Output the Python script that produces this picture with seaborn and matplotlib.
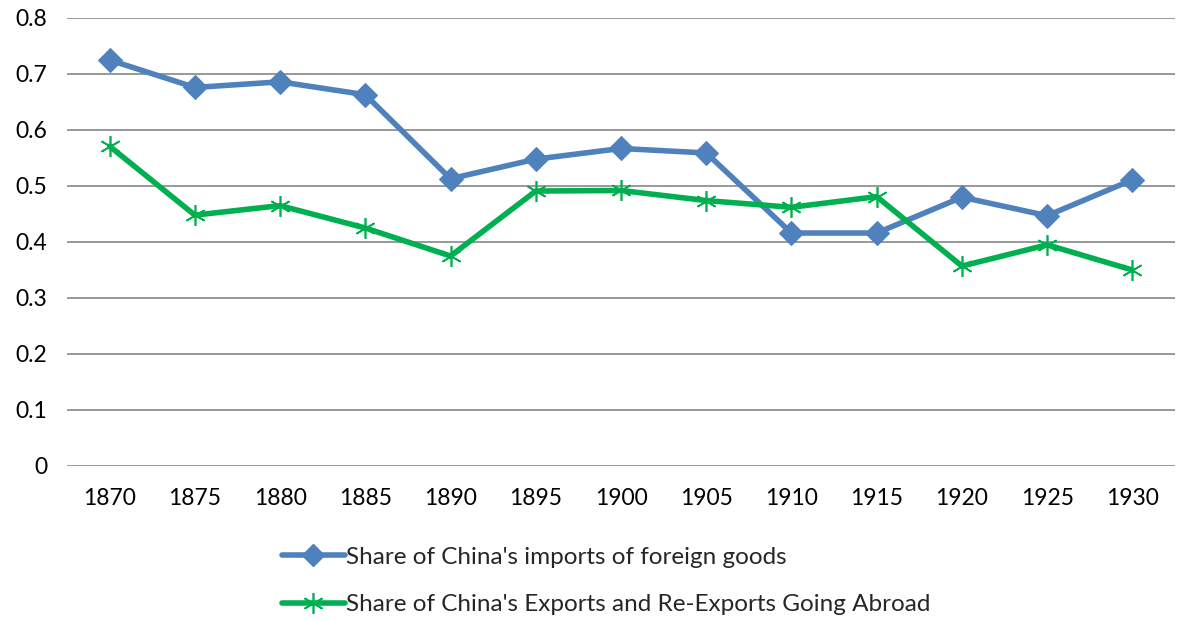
import matplotlib
matplotlib.use("Agg")
import matplotlib.pyplot as plt
import seaborn as sns
import pandas as pd
from matplotlib.lines import Line2D

years = [1870, 1875, 1880, 1885, 1890, 1895, 1900, 1905, 1910, 1915, 1920, 1925, 1930]
imports_share = [0.725, 0.676, 0.686, 0.663, 0.513, 0.548, 0.567, 0.559, 0.416, 0.416, 0.480, 0.447, 0.511]
exports_share = [0.571, 0.448, 0.465, 0.425, 0.375, 0.491, 0.492, 0.474, 0.462, 0.481, 0.357, 0.395, 0.350]
series_names = ["Share of China's imports of foreign goods",
                "Share of China's Exports and Re-Exports Going Abroad"]
colors = ["#4F81BD", "#00B050"]

sns.set_theme(style="white")
plt.rcParams['font.family'] = ['Lato', 'DejaVu Sans']

pos = list(range(len(years)))
df_imp = pd.DataFrame({"pos": pos, "value": imports_share})
df_exp = pd.DataFrame({"pos": pos, "value": exports_share})

fig = plt.figure(figsize=(11.88, 6.22), dpi=100)
ax = fig.add_axes([67/1188, 1 - 466/622, (1175-67)/1188, (466-18)/622])

sns.lineplot(data=df_imp, x="pos", y="value", color=colors[0], marker="D",
             linewidth=4, markersize=12, markeredgecolor=colors[0], ax=ax)
sns.lineplot(data=df_exp, x="pos", y="value", color=colors[1], marker=(6, 2, 0),
             linewidth=4, markersize=15, markeredgewidth=1.2, markeredgecolor=colors[1], ax=ax)

ax.set_xlim(-0.5, len(years) - 0.5)
ax.set_ylim(0, 0.8)
ax.set_yticks([i / 10 for i in range(9)])
ax.set_yticklabels(["0"] + [f"{i/10:.1f}" for i in range(1, 9)])
ax.set_xticks(pos)
ax.set_xticklabels([str(y) for y in years])
ax.yaxis.grid(True, color="#888888", linewidth=1.2)
ax.set_axisbelow(True)
for s in ax.spines.values():
    s.set_visible(False)
ax.tick_params(axis="both", length=0, labelsize=16.5, colors="black")
ax.tick_params(axis="x", pad=16)
ax.tick_params(axis="y", pad=14)
ax.set_xlabel("")
ax.set_ylabel("")

handles = [
    Line2D([], [], color=colors[0], lw=4, marker="D", markersize=11, markeredgecolor=colors[0]),
    Line2D([], [], color=colors[1], lw=4, marker=(6, 2, 0), markersize=15, markeredgewidth=1.2, markeredgecolor=colors[1]),
]
fig.legend(handles, series_names, loc="center", bbox_to_anchor=(606/1188, 1 - 581/622),
           frameon=False, fontsize=17.5, handlelength=2.6, handletextpad=0.05,
           labelspacing=1.1, alignment="left", borderpad=0)

fig.savefig("out.png", dpi=100)
